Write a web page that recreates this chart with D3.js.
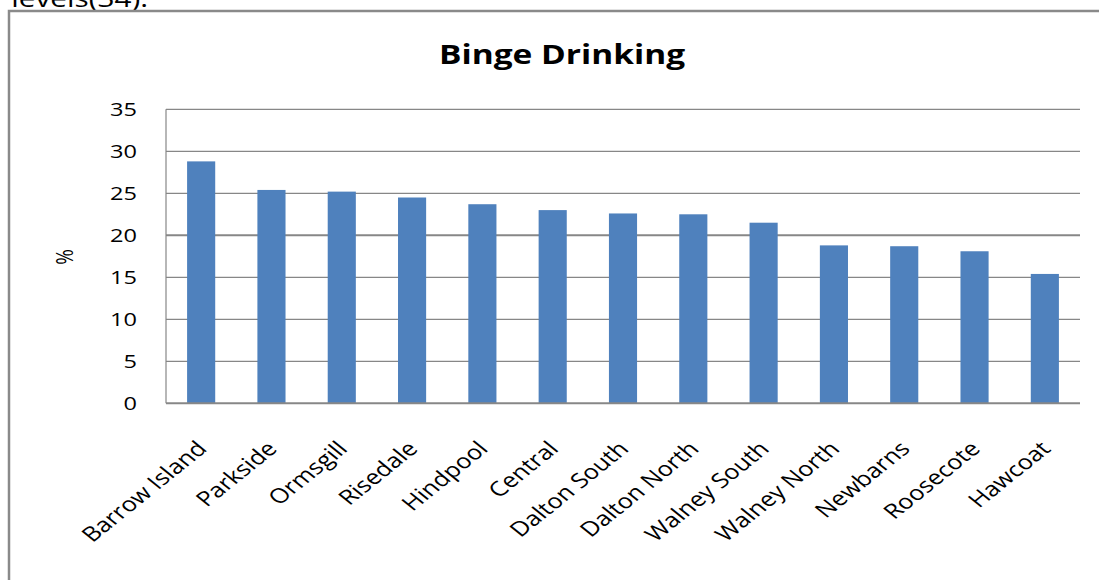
<!DOCTYPE html>
<html>
<head>
<meta charset="utf-8">
<script src="https://cdn.jsdelivr.net/npm/d3@7"></script>
<style>
  html, body { margin: 0; padding: 0; background: #fff; }
  svg { display: block; }
  text { font-family: "Open Sans", "Noto Sans", sans-serif; fill: #000; }
</style>
</head>
<body>
<svg id="chart" width="1099" height="580"></svg>
<script>
// Binge drinking rate (%) by ward
const wards = ["Barrow Island", "Parkside", "Ormsgill", "Risedale", "Hindpool", "Central",
  "Dalton South", "Dalton North", "Walney South", "Walney North", "Newbarns", "Roosecote", "Hawcoat"];
const bingePct = [28.8, 25.4, 25.2, 24.5, 23.7, 23.0, 22.6, 22.5, 21.5, 18.8, 18.7, 18.1, 15.4];
const yTicks = [0, 5, 10, 15, 20, 25, 30, 35];
const title = "Binge Drinking";
const yLabel = "%";
const leadText = "levels(34).";

const W = 1099, H = 580;
const plot = { left: 166, right: 1080, top: 109.3, bottom: 403.3 };
const sx = 1.24;            // horizontal text stretch
const gridColor = "#878787";
const barColor = "#4f81bd";

const svg = d3.select("#chart");

// trailing line of the paragraph above the chart
svg.append("text")
  .attr("transform", `translate(148,7) scale(${sx},1)`)
  .attr("text-anchor", "end")
  .style("font-size", "24px")
  .text(leadText);

// chart frame
svg.append("rect")
  .attr("x", 9).attr("y", 11)
  .attr("width", 1200).attr("height", 700)
  .attr("fill", "none")
  .attr("stroke", "#8a8a8a")
  .attr("stroke-width", 2.5);

const x = d3.scaleBand()
  .domain(wards)
  .range([plot.left, plot.right])
  .paddingInner(0.6)
  .paddingOuter(0.3);

const y = d3.scaleLinear()
  .domain([0, 35])
  .range([plot.bottom, plot.top]);

// horizontal gridlines
svg.append("g")
  .selectAll("line")
  .data(yTicks.filter(t => t > 0))
  .join("line")
  .attr("x1", plot.left).attr("x2", plot.right)
  .attr("y1", d => y(d)).attr("y2", d => y(d))
  .attr("stroke", gridColor)
  .attr("stroke-width", d => d === 20 ? 2 : 1.2);

// bars
svg.append("g")
  .selectAll("rect")
  .data(wards.map((w, i) => ({ w, v: bingePct[i] })))
  .join("rect")
  .attr("x", d => x(d.w))
  .attr("width", x.bandwidth())
  .attr("y", d => y(d.v))
  .attr("height", d => y(0) - y(d.v))
  .attr("fill", barColor);

// axis lines
svg.append("line")
  .attr("x1", plot.left).attr("x2", plot.left)
  .attr("y1", plot.top).attr("y2", plot.bottom)
  .attr("stroke", gridColor).attr("stroke-width", 1.2);
svg.append("line")
  .attr("x1", plot.left).attr("x2", plot.right)
  .attr("y1", y(0)).attr("y2", y(0))
  .attr("stroke", gridColor).attr("stroke-width", 2);

// y tick labels
svg.append("g")
  .selectAll("text")
  .data(yTicks)
  .join("text")
  .attr("transform", d => `translate(137,${y(d)}) scale(${sx},1)`)
  .attr("text-anchor", "end")
  .attr("dy", "0.36em")
  .style("font-size", "19px")
  .text(d => d);

// x category labels
svg.append("g")
  .selectAll("text")
  .data(wards)
  .join("text")
  .attr("transform", d => `translate(${x(d) + x.bandwidth() / 2 + 7},450) scale(${sx},1) rotate(-45)`)
  .attr("text-anchor", "end")
  .style("font-size", "20.5px")
  .text(d => d);

// y axis title
svg.append("text")
  .attr("transform", `translate(73,257) scale(${sx},1) rotate(-90)`)
  .attr("text-anchor", "middle")
  .style("font-size", "19px")
  .text(yLabel);

// chart title
svg.append("text")
  .attr("transform", `translate(562,64) scale(${sx},1)`)
  .attr("text-anchor", "middle")
  .style("font-size", "27px")
  .style("font-weight", "bold")
  .text(title);
</script>
</body>
</html>
